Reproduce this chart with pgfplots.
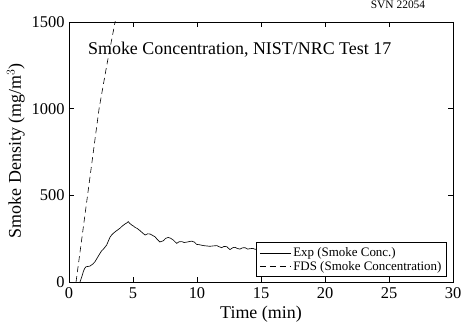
\documentclass[border=0pt]{standalone}
\usepackage{fontspec}
\setmainfont{Liberation Serif}
\usepackage{pgfplots}
\pgfplotsset{compat=1.18}

\begin{document}
\begin{tikzpicture}
  \begin{axis}[
    scale only axis,
    width=384bp, height=260bp,
    xmin=0, xmax=30, ymin=0, ymax=1500,
    xtick={0,5,...,30},
    ytick={0,500,1000,1500},
    tick align=inside,
    tick pos=both,
    major tick length=5bp,
    axis line style={line width=0.9pt},
    every tick/.style={black, line width=0.7pt},
    /pgf/number format/assume math mode=true,
    /pgf/number format/1000 sep={},
    tick label style={font=\fontsize{16.5}{18}\selectfont},
    xticklabel style={yshift=-2bp},
    yticklabel style={xshift=-1bp},
    xlabel={Time (min)},
    ylabel={Smoke Density (mg/m$^3$)},
    label style={font=\fontsize{18}{20}\selectfont, inner sep=0pt},
    x label style={at={(rel axis cs:0.5,0)}, anchor=north, yshift=-24bp},
    y label style={at={(rel axis cs:0,0.505)}, anchor=south, yshift=44bp},
    legend style={at={(rel axis cs:0.984,0.019)}, anchor=south east,
      draw=black, line width=0.8pt, fill=white,
      font=\fontsize{13}{14}\selectfont, inner sep=3bp,
      row sep=-1bp, cells={anchor=west}},
    legend image code/.code={\draw[#1, line width=0.6pt] (0bp,0bp) -- (31bp,0bp);},
    clip=true,
  ]
    \addplot[black, line width=0.65pt] coordinates {
      (0.86,0) (1.0,30) (1.12,60) (1.22,78) (1.33,88) (1.5,90) (1.64,92)
      (1.85,103) (2.03,117) (2.2,138) (2.42,165) (2.55,180) (2.68,189)
      (2.8,200) (2.94,213) (3.05,232) (3.2,258) (3.32,270) (3.46,281)
      (3.7,295) (3.98,310) (4.15,322) (4.38,335) (4.5,340) (4.63,348)
      (4.75,338) (4.9,329) (5.05,322) (5.16,315) (5.35,308) (5.55,296)
      (5.75,283) (5.94,271) (6.15,278) (6.33,277) (6.5,270) (6.72,261)
      (6.9,245) (7.1,231) (7.37,238) (7.55,252) (7.76,257) (7.95,252)
      (8.15,242) (8.41,223) (8.6,232) (8.8,233) (9.0,228) (9.19,230)
      (9.4,233) (9.58,236) (9.8,230) (9.97,217) (10.2,215) (10.5,210)
      (10.75,208) (11.0,206) (11.25,208) (11.54,210) (11.75,203) (11.93,198)
      (12.1,205) (12.32,204) (12.45,195) (12.58,187) (12.8,198) (12.97,200)
      (13.15,193) (13.36,190) (13.55,197) (13.75,198) (13.95,190) (14.14,192)
      (14.35,194) (14.53,189) (14.8,190) (15.2,185) (15.8,188) (16.5,182)
      (17.2,184) (18.0,178) (18.8,180) (19.5,176) (20.0,177)
    };
    \addlegendentry{Exp (Smoke Conc.)}
    \addplot[black, line width=0.6pt, dash pattern=on 6bp off 4bp] coordinates {
      (0.55,0) (1.0,250) (1.45,500) (1.9,750) (2.35,1000) (2.95,1250)
      (3.6,1500) (3.7,1540)
    };
    \addlegendentry{FDS (Smoke Concentration)}
    \node[anchor=base west, inner sep=0pt, font=\fontsize{18}{20}\selectfont]
      at (axis cs:1.48,1314) {Smoke Concentration, NIST/NRC Test 17};
  \end{axis}
  \node[anchor=south, inner sep=0pt, font=\fontsize{11.5}{12}\selectfont]
    at ([xshift=-55bp, yshift=13bp]current axis.north east) {SVN 22054};
  \pgfresetboundingbox
  \useasboundingbox ([xshift=-69bp, yshift=-44bp]current axis.south west)
    rectangle ([xshift=10bp, yshift=22bp]current axis.north east);
\end{tikzpicture}
\end{document}
